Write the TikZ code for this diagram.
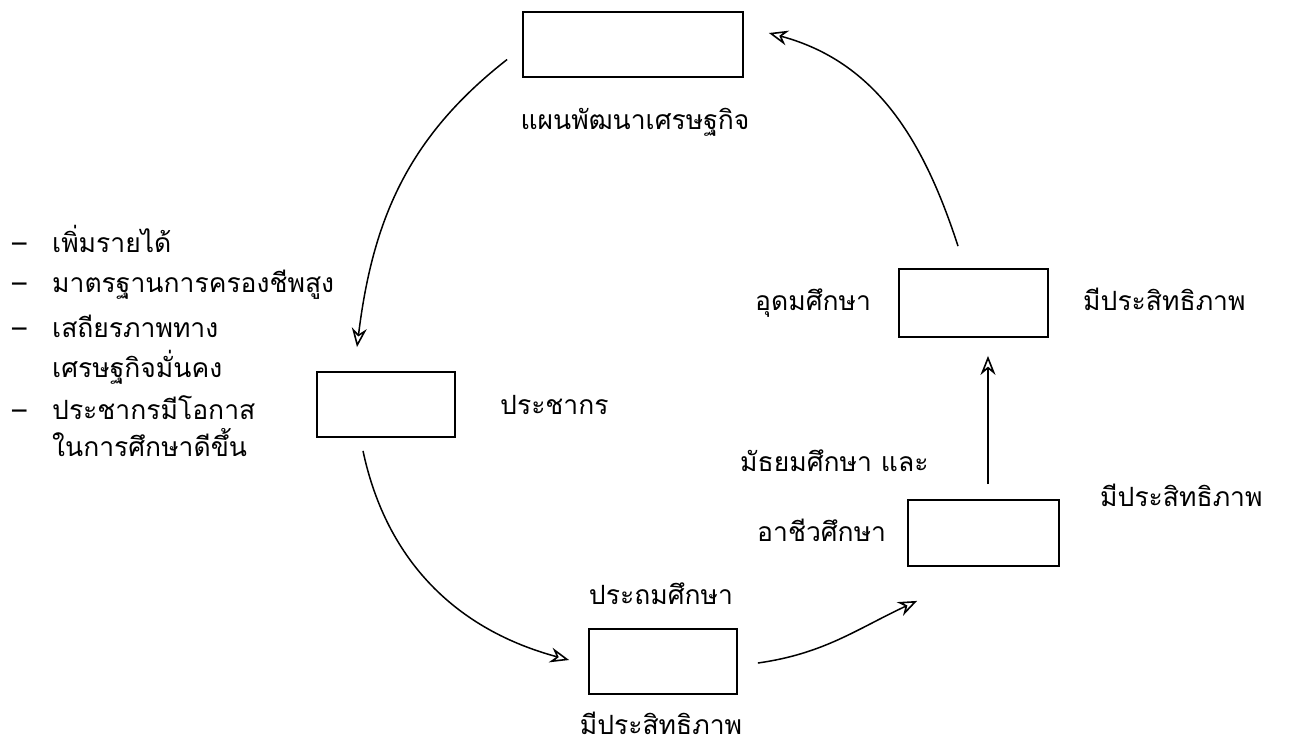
\documentclass[tikz,border=0pt]{standalone}
\usepackage{fontspec}
\newfontfamily\thai[Script=Thai]{Loma}
\usetikzlibrary{arrows.meta}
\begin{document}
\begin{tikzpicture}[x=1pt,y=-1pt,
  box/.style={draw, line width=1.8pt, inner sep=0pt},
  lbl/.style={font=\thai\fontsize{26.5}{32}\selectfont, inner sep=0pt},
  arr/.style={line width=1.5pt, -{Stealth[open, length=19pt, width=15pt, line width=1.6pt]}}]
\useasboundingbox (0,0) rectangle (1307,745);
% boxes
\node[box, minimum width=220pt, minimum height=65pt] (top) at (633,44.5) {};
\node[box, minimum width=138pt, minimum height=65pt] (pop) at (386,404.5) {};
\node[box, minimum width=148pt, minimum height=65pt] (prim) at (663,661.5) {};
\node[box, minimum width=151pt, minimum height=66pt] (voc) at (983.5,533) {};
\node[box, minimum width=149pt, minimum height=68pt] (high) at (973.5,303) {};
% labels
\node[lbl, anchor=base] (ltop) at (635,129) {แผนพัฒนาเศรษฐกิจ};
\node[lbl, anchor=base west] (lpop) at (500,414) {ประชากร};
\node[lbl, anchor=base] (lprim1) at (661,604) {ประถมศึกษา};
\node[lbl, anchor=base] (lprim2) at (661,734) {มีประสิทธิภาพ};
\node[lbl, anchor=base west] (lhigh1) at (755,310) {อุดมศึกษา};
\node[lbl, anchor=base west] (lhigh2) at (1083,310) {มีประสิทธิภาพ};
\node[lbl, anchor=base west] (lvoc1) at (740,471) {มัธยมศึกษา และ};
\node[lbl, anchor=base west] (lvoc2) at (757,541) {อาชีวศึกษา};
\node[lbl, anchor=base west] (lvoc3) at (1100,506) {มีประสิทธิภาพ};
% list
\node[lbl, anchor=base west] (li1) at (12,252) {\makebox[40pt][l]{–}เพิ่มรายได้};
\node[lbl, anchor=base west] (li2) at (12,292) {\makebox[40pt][l]{–}มาตรฐานการครองชีพสูง};
\node[lbl, anchor=base west] (li3) at (12,337) {\makebox[40pt][l]{–}เสถียรภาพทาง};
\node[lbl, anchor=base west] (li4) at (52,377) {เศรษฐกิจมั่นคง};
\node[lbl, anchor=base west] (li5) at (12,419) {\makebox[40pt][l]{–}ประชากรมีโอกาส};
\node[lbl, anchor=base west] (li6) at (52,456) {ในการศึกษาดีขึ้น};
% connectors
\draw[arr] ([shift={(-15,15)}]top.west) to[out=218, in=83] ([shift={(-29,-24)}]pop.north);
\draw[arr] ([shift={(-23,13)}]pop.south) to[out=-78, in=165] ([shift={(-19,-1.5)}]prim.west);
\draw[arr] ([shift={(20,1.5)}]prim.east) to[out=8, in=205] ([shift={(10,34)}]voc.south west);
\draw[arr] ([shift={(4.5,-15)}]voc.north) -- ([shift={(4.5,18)}]voc.north |- high.south);
\draw[arr] ([shift={(-15.5,-22)}]high.north) to[out=108, in=-15] ([shift={(25,-11.5)}]top.east);
\end{tikzpicture}
\end{document}
